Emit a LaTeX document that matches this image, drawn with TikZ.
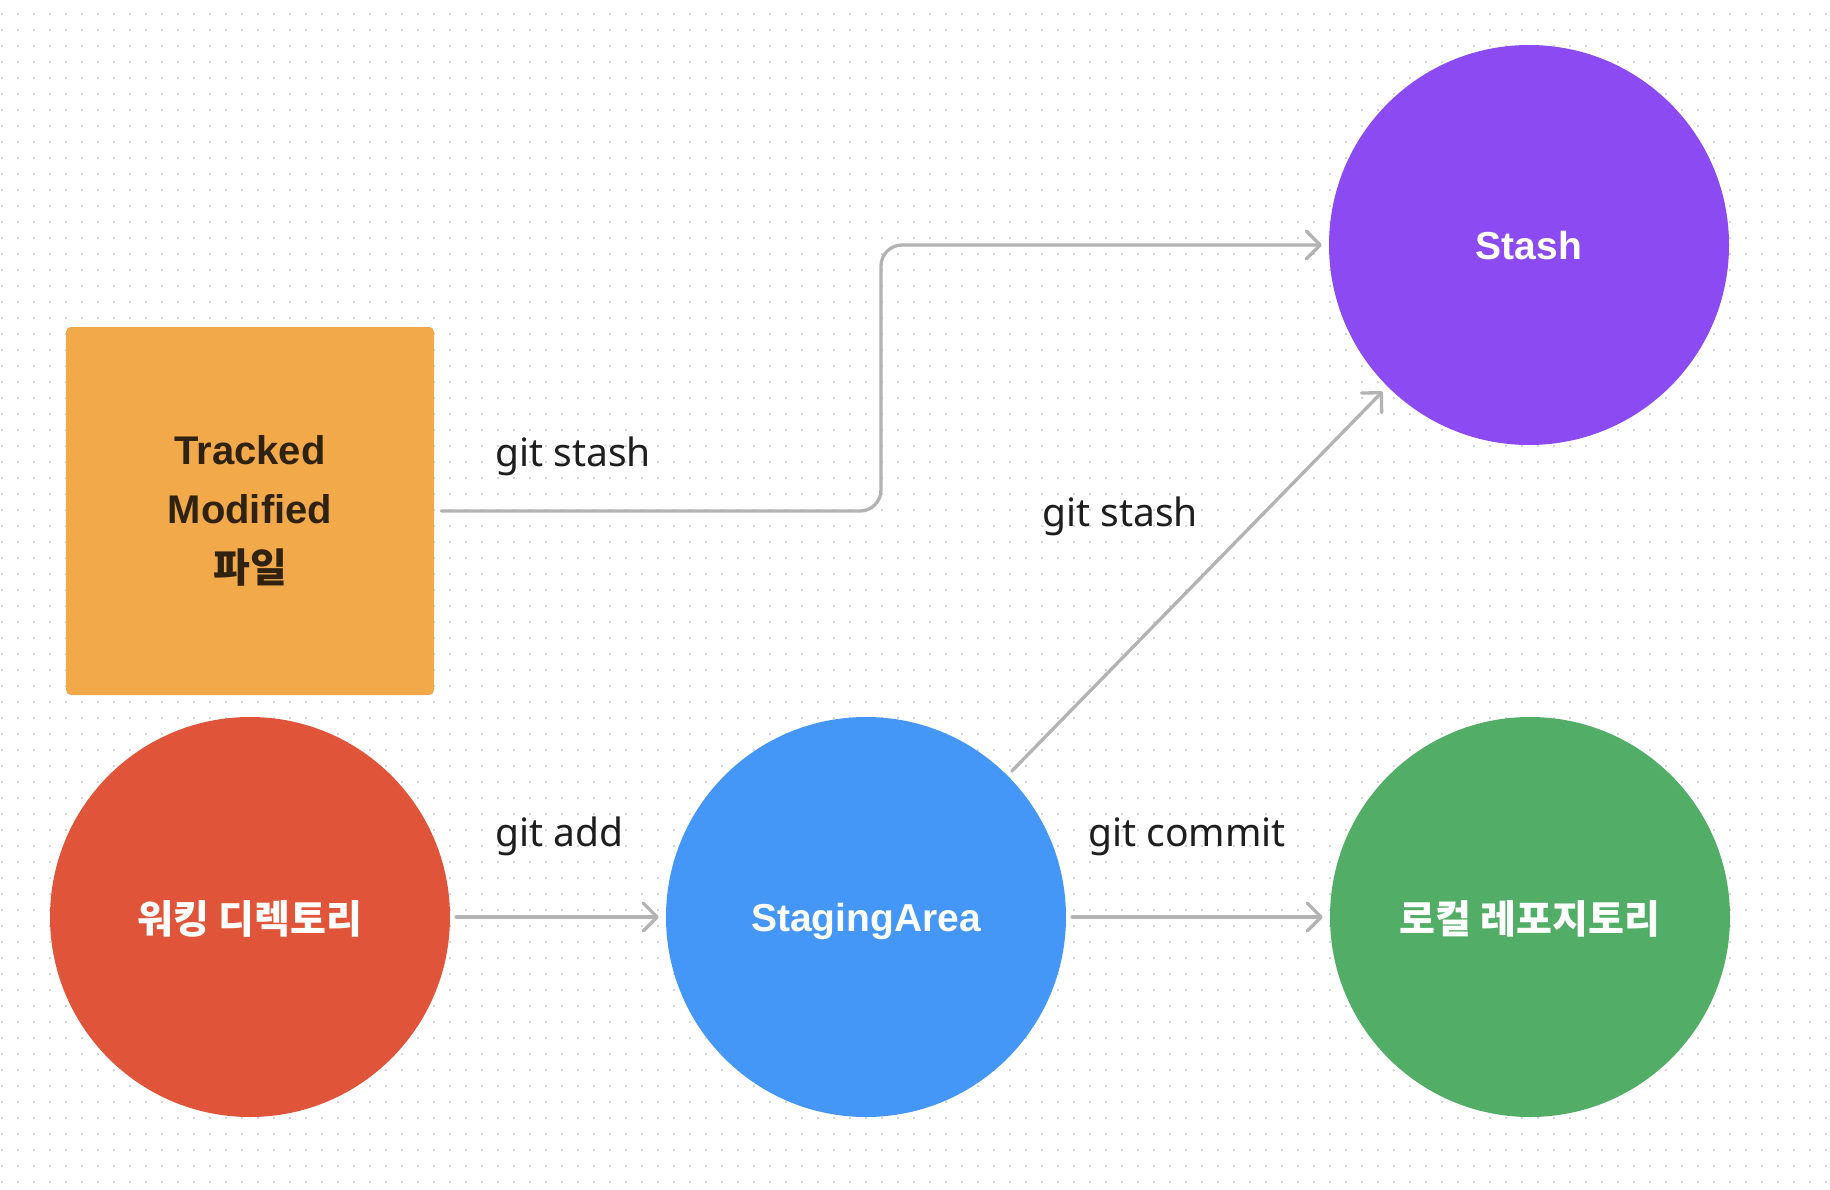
\documentclass[tikz,border=0pt]{standalone}
\usepackage{fontspec}
\setmainfont{Noto Sans}
\newfontfamily\kr{Noto Sans CJK KR}
\newfontfamily\hb{Liberation Sans}
\usetikzlibrary{arrows.meta}
\definecolor{bgdot}{HTML}{D6D6D6}
\definecolor{conncol}{HTML}{B3B3B3}
\definecolor{orangebox}{HTML}{F1A949}
\definecolor{redc}{HTML}{E0553A}
\definecolor{bluec}{HTML}{4597F7}
\definecolor{purplec}{HTML}{8C4BF2}
\definecolor{greenc}{HTML}{52AD67}
\definecolor{boxtext}{HTML}{2F2210}
\definecolor{labeltext}{HTML}{1E1E1E}
\tikzset{
  bubble/.style={circle, minimum size=400pt, inner sep=0pt, text=white, font=\fontsize{39}{44}\selectfont\hb\bfseries, text depth=0pt},
  conn/.style={draw=conncol, line width=3.3pt, line cap=round, line join=round,
    -{Straight Barb[length=14pt, width=28pt, line cap=round, line join=round]}},
  cmdlabel/.style={anchor=base west, inner sep=0pt, text=labeltext, font=\fontsize{39}{44}\selectfont},
}
\begin{document}
\begin{tikzpicture}[x=1pt, y=-1pt]
\useasboundingbox (0,0) rectangle (1830,1190);
\fill[white] (0,0) rectangle (1830,1190);
\foreach \yy in {14,30,...,1190}
  \draw[bgdot, line width=2pt, dash pattern=on 2pt off 14pt] (1,\yy) -- (1830,\yy);

\node[fill=orangebox, rounded corners=5pt, minimum width=368pt, minimum height=368pt, inner sep=0pt,
  align=center, text=boxtext, font=\fontsize{40}{59}\selectfont\hb\bfseries] (tm) at (250,511)
  {Tracked\\Modified\\{\kr\bfseries 파일}};

\node[bubble, fill=redc] (work) at (250,917) {\kr\bfseries 워킹 디렉토리};
\node[bubble, fill=bluec] (stage) at (866,917) {StagingArea};
\node[bubble, fill=greenc] (local) at (1530,917) {\kr\bfseries 로컬 레포지토리};
\node[bubble, fill=purplec] (stash) at (1529,245) {Stash};

\coordinate (bend) at (881,245);
\draw[conn, rounded corners=21pt] ([xshift=7pt]tm.east) -| (bend) -- ([xshift=-7pt]stash.west);
\draw[conn, shorten <=6pt, shorten >=7pt] (stage.45) -- (stash.225);
\draw[conn, shorten <=6pt, shorten >=7pt] (work.east) -- (stage.west);
\draw[conn, shorten <=6pt, shorten >=7pt] (stage.east) -- (local.west);

\node[cmdlabel] (l1) at (495,466) {git stash};
\node[cmdlabel] (l2) at (1042,526) {git stash};
\node[cmdlabel] (l3) at (495,846) {git add};
\node[cmdlabel] (l4) at (1088,846) {git commit};
\end{tikzpicture}
\end{document}
